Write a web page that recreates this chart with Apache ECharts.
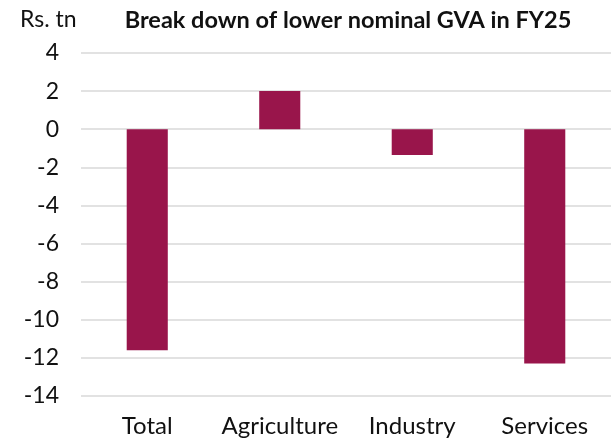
<!DOCTYPE html>
<html>
<head>
<meta charset="utf-8">
<script src="https://cdn.jsdelivr.net/npm/echarts@6/dist/echarts.min.js"></script>
<style>
  html, body { margin: 0; padding: 0; background: #fff; }
  #chart { width: 615px; height: 443px; }
</style>
</head>
<body>
<div id="chart"></div>
<script>
// sectors and their change in nominal GVA (Rs. tn)
var categories = ['Total', 'Agriculture', 'Industry', 'Services']
var values = [-11.6, 2.0, -1.35, -12.3]
var yMin = -14
var yMax = 4
var yStep = 2

var chart = echarts.init(document.getElementById('chart'))
chart.setOption({
  animation: false,
  textStyle: { fontFamily: 'Lato' },
  title: [
    {
      text: 'Break down of lower nominal GVA in FY25',
      left: 343,
      textAlign: 'center',
      top: 3,
      textStyle: { fontFamily: 'Lato', fontWeight: 'bold', fontSize: 23.5, color: '#111' }
    },
    {
      text: 'Rs. tn',
      left: 15,
      top: 3,
      textStyle: { fontFamily: 'Lato', fontWeight: 'normal', fontSize: 23, color: '#111' }
    }
  ],
  grid: { left: 81, right: 4, top: 53, bottom: 47 },
  xAxis: {
    type: 'category',
    data: categories,
    axisLine: { show: false },
    axisTick: { show: false },
    axisLabel: { color: '#111', fontSize: 24, margin: 18, interval: 0, hideOverlap: false }
  },
  yAxis: {
    type: 'value',
    min: yMin,
    max: yMax,
    interval: yStep,
    axisLine: { show: false },
    axisTick: { show: false },
    axisLabel: { color: '#111', fontSize: 23, margin: 22 },
    splitLine: { lineStyle: { color: '#d9d9d9', width: 1.5 } }
  },
  series: [
    {
      type: 'bar',
      data: values,
      barWidth: '31%',
      itemStyle: { color: '#99154B' }
    }
  ]
})
</script>
</body>
</html>
